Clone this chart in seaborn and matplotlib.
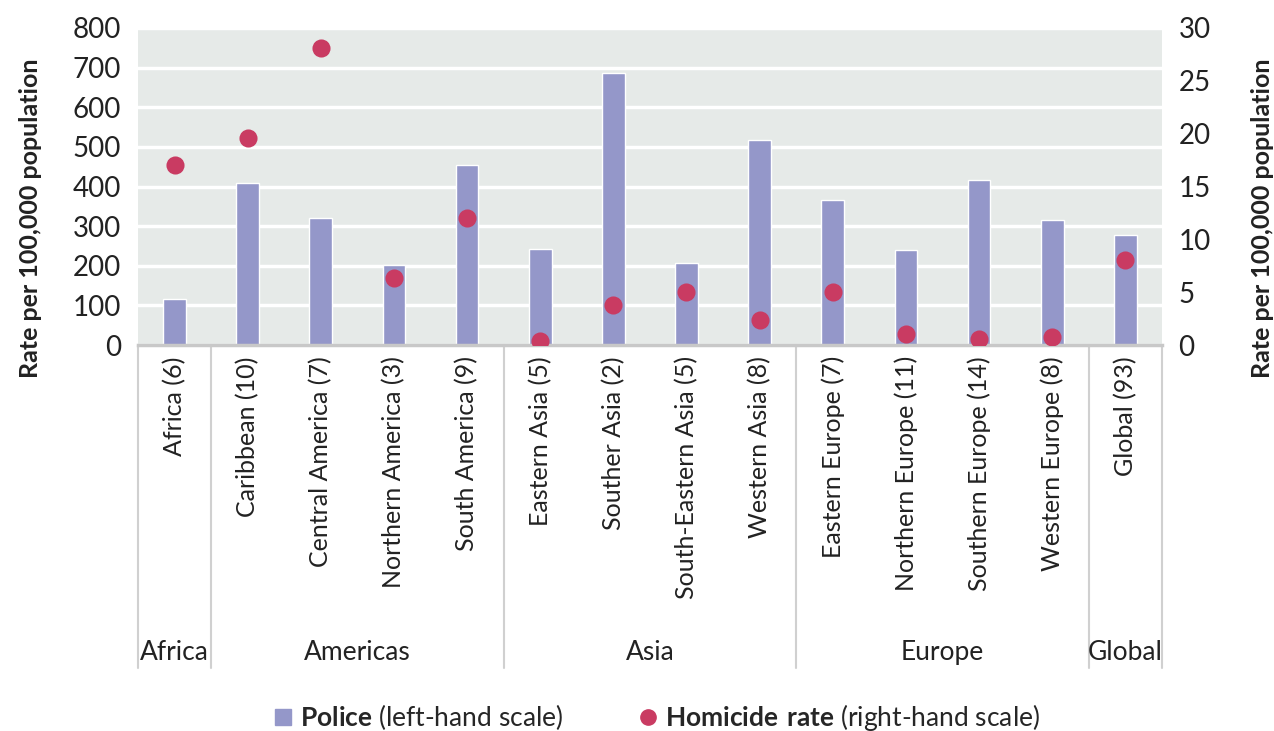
import numpy as np
import pandas as pd
import seaborn as sns
import matplotlib.pyplot as plt
from matplotlib.lines import Line2D

# regions, number of countries in brackets
regions = ["Africa (6)", "Caribbean (10)", "Central America (7)", "Northern America (3)",
           "South America (9)", "Eastern Asia (5)", "Souther Asia (2)", "South-Eastern Asia (5)",
           "Western Asia (8)", "Eastern Europe (7)", "Northern Europe (11)", "Southern Europe (14)",
           "Western Europe (8)", "Global (93)"]
police = [116, 410, 321, 201, 455, 243, 686, 207, 518, 366, 240, 417, 316, 278]
homicide = [17.0, 19.6, 28.1, 6.3, 12.0, 0.4, 3.8, 5.0, 2.4, 5.0, 1.0, 0.6, 0.8, 8.0]

groups = ["Africa", "Americas", "Asia", "Europe", "Global"]
group_sizes = [1, 4, 4, 4, 1]

bar_col = "#9497C9"
dot_col = "#C93B62"

sns.set_theme(style="white")
plt.rcParams["font.family"] = ["Lato", "DejaVu Sans"]
plt.rcParams["mathtext.fontset"] = "custom"
plt.rcParams["mathtext.rm"] = "Lato"
plt.rcParams["mathtext.bf"] = "Lato:bold"

df = pd.DataFrame({"region": regions, "police": police, "homicide": homicide})

fig = plt.figure(figsize=(12.74, 7.31), dpi=100)
ax = fig.add_axes([0.1083, 0.528, 0.8037, 0.4337])
ax2 = ax.twinx()

sns.barplot(data=df, x="region", y="police", color=bar_col, width=0.31,
            saturation=1, ax=ax, zorder=2)
sns.pointplot(data=df, x="region", y="homicide", color=dot_col, linestyle="none",
              markers="o", markersize=11, ax=ax2, zorder=3)

ax.set_facecolor("#E6EAE8")
ax.set_ylim(0, 800)
ax.set_yticks(range(0, 801, 100))
ax2.set_ylim(0, 30)
ax2.set_yticks(range(0, 31, 5))
ax.set_xlim(-0.5, len(regions) - 0.5)
ax2.set_xlim(-0.5, len(regions) - 0.5)

ax.set_axisbelow(True)
ax.yaxis.grid(True, color="white", linewidth=2.5)
for a in (ax, ax2):
    for s in ["left", "right", "top", "bottom"]:
        a.spines[s].set_visible(False)
ax.spines["bottom"].set_visible(True)
ax.spines["bottom"].set_color("#C8C8C8")
ax.spines["bottom"].set_linewidth(2.5)

ax.tick_params(axis="y", labelsize=20, length=0, pad=12, colors="#222222")
ax2.tick_params(axis="y", labelsize=20, length=0, pad=12, colors="#222222")
ax.set_xticks(range(len(regions)))
ax.set_xticklabels(regions, rotation=90, fontsize=18, color="#222222")
ax.tick_params(axis="x", length=0, pad=8)
ax2.tick_params(axis="x", length=0)

ax.set_xlabel("")
ax.set_ylabel("Rate per 100,000 population", fontsize=18, fontweight="bold",
              color="#222222")
ax2.set_ylabel("Rate per 100,000 population", fontsize=18, fontweight="bold",
               color="#222222")
ax.yaxis.set_label_coords(-0.094, 0.40)
ax2.yaxis.set_label_coords(1.087, 0.40)

# group separators and labels below the axis
line_bottom = -1.02
edges = np.concatenate([[0], np.cumsum(group_sizes)]) - 0.5
for e in edges:
    ax.add_line(Line2D([e, e], [0, line_bottom], transform=ax.get_xaxis_transform(),
                       color="#D0D0D0", linewidth=1.5, clip_on=False))
for g, lo, hi in zip(groups, edges[:-1], edges[1:]):
    ax.text((lo + hi) / 2, -0.97, g, transform=ax.get_xaxis_transform(),
            ha="center", va="center", fontsize=19, color="#222222")

handles = [Line2D([], [], linestyle="none", marker="s", markersize=11, color=bar_col),
           Line2D([], [], linestyle="none", marker="o", markersize=11, color=dot_col)]
labels = [r"$\mathbf{Police}$ (left-hand scale)",
          r"$\mathbf{Homicide\ rate}$ (right-hand scale)"]
fig.legend(handles, labels, loc="lower center", bbox_to_anchor=(0.515, -0.035), ncol=2,
           frameon=False, fontsize=19, handlelength=0.8, handletextpad=0.25,
           columnspacing=2.8)

fig.savefig("out.png", dpi=100)
